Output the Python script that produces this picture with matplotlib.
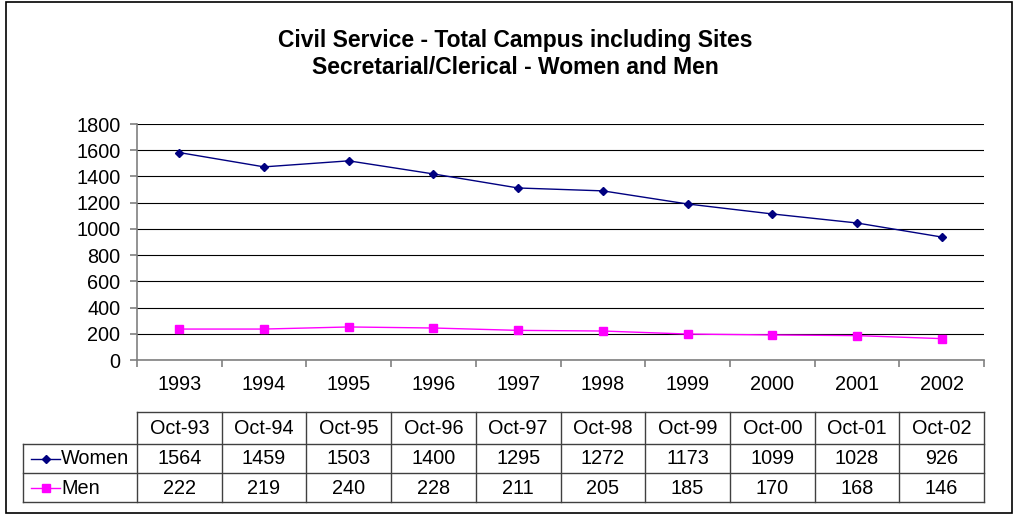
import matplotlib.pyplot as plt
from matplotlib.transforms import blended_transform_factory

plt.rcParams['font.family'] = ['Liberation Sans', 'DejaVu Sans']

years = ['1993', '1994', '1995', '1996', '1997', '1998', '1999', '2000', '2001', '2002']
months = ['Oct-93', 'Oct-94', 'Oct-95', 'Oct-96', 'Oct-97', 'Oct-98', 'Oct-99', 'Oct-00', 'Oct-01', 'Oct-02']

# values as drawn in the plot
women_plot = [1582, 1473, 1519, 1419, 1312, 1290, 1190, 1114, 1045, 938]
men_plot = [236, 236, 252, 244, 226, 221, 198, 191, 186, 163]

# values printed in the data table
women_table = [1564, 1459, 1503, 1400, 1295, 1272, 1173, 1099, 1028, 926]
men_table = [222, 219, 240, 228, 211, 205, 185, 170, 168, 146]

W, H = 1015, 517
fs = 14.3
fig = plt.figure(figsize=(W / 100, H / 100), dpi=100)

def fy(px):
    return 1 - px / H

def fx(px):
    return px / W

# outer frame
fig.add_artist(plt.Rectangle((fx(6), fy(513)), fx(1006), (513 - 2) / H, fill=False,
                             edgecolor='black', linewidth=1.2, transform=fig.transFigure))

ax = fig.add_axes([fx(137), fy(360), fx(984 - 137), (360 - 124) / H])
x = list(range(len(years)))

ax.plot(x, women_plot, color='#000080', marker='D', markersize=4.5, linewidth=1)
ax.plot(x, men_plot, color='#FF00FF', marker='s', markersize=6, linewidth=1)

ax.set_xlim(-0.5, len(years) - 0.5)
ax.set_ylim(0, 1800)
ax.set_yticks(range(0, 1801, 200))
ax.grid(axis='y', color='black', linewidth=0.8)
ax.set_axisbelow(True)

for s in ['top', 'right']:
    ax.spines[s].set_visible(False)
for s in ['left', 'bottom']:
    ax.spines[s].set_color('#808080')
    ax.spines[s].set_linewidth(1.2)

ax.set_xticks([i - 0.5 for i in range(len(years) + 1)])
ax.set_xticklabels([])
ax.set_xticks(x, minor=True)
ax.set_xticklabels(years, minor=True, fontsize=fs)
ax.tick_params(axis='x', which='major', direction='out', length=5, color='#808080', width=1.2)
ax.tick_params(axis='x', which='minor', length=0, pad=11)
ax.tick_params(axis='y', direction='out', length=5, color='#808080', width=1.2,
               labelsize=fs, pad=7)

fig.text(0.508, fy(40), 'Civil Service - Total Campus including Sites',
         ha='center', va='center', fontsize=16.5, fontweight='bold')
fig.text(0.508, fy(68), 'Secretarial/Clerical - Women and Men',
         ha='center', va='center', fontsize=16.5, fontweight='bold')

# data table
tr = blended_transform_factory(ax.transData, fig.transFigure)
rows_y = [412, 444, 473, 502]
lw = 1.0
lc = '#404040'
x0, x1 = -0.5, len(years) - 0.5
ax.plot([x0, x1], [fy(rows_y[0])] * 2, color=lc, lw=lw, transform=tr, clip_on=False)
for yy in rows_y[1:]:
    fig.add_artist(plt.Line2D([fx(23), fx(984)], [fy(yy)] * 2, color=lc, lw=lw,
                              transform=fig.transFigure))
for i in range(len(years) + 1):
    ax.plot([i - 0.5] * 2, [fy(rows_y[0]), fy(rows_y[3])], color=lc, lw=lw,
            transform=tr, clip_on=False)
fig.add_artist(plt.Line2D([fx(23)] * 2, [fy(rows_y[1]), fy(rows_y[3])], color=lc, lw=lw,
                          transform=fig.transFigure))

for i in x:
    ax.text(i, fy(428), months[i], ha='center', va='center', fontsize=fs, transform=tr)
    ax.text(i, fy(459), str(women_table[i]), ha='center', va='center', fontsize=fs, transform=tr)
    ax.text(i, fy(488), str(men_table[i]), ha='center', va='center', fontsize=fs, transform=tr)

# legend keys in row labels
for yy, name, col, mk, ms in [(459, 'Women', '#000080', 'D', 4.5), (488, 'Men', '#FF00FF', 's', 6)]:
    fig.add_artist(plt.Line2D([fx(31), fx(60)], [fy(yy)] * 2, color=col, lw=1,
                              transform=fig.transFigure))
    fig.add_artist(plt.Line2D([fx(46)], [fy(yy)], color=col, marker=mk, markersize=ms,
                              transform=fig.transFigure))
    fig.text(fx(61), fy(yy), name, ha='left', va='center', fontsize=fs)

fig.savefig('out.png', dpi=100)
